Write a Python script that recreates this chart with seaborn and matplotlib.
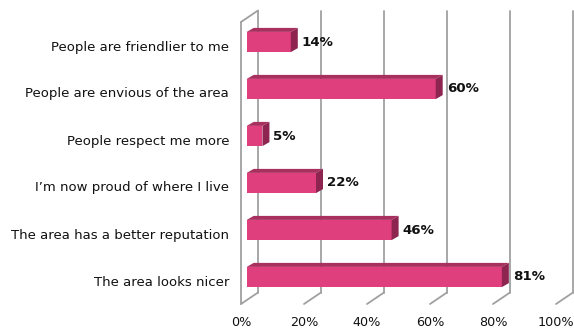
import matplotlib
matplotlib.use("Agg")
import matplotlib.pyplot as plt
import seaborn as sns
import pandas as pd
from matplotlib.patches import Polygon

categories = [
    "People are friendlier to me",
    "People are envious of the area",
    "People respect me more",
    "I\u2019m now proud of where I live",
    "The area has a better reputation",
    "The area looks nicer",
]
values = [14, 60, 5, 22, 46, 81]
xticks = [0, 20, 40, 60, 80, 100]
xtick_labels = ["0%", "20%", "40%", "60%", "80%", "100%"]

FRONT = "#DF3F7C"
TOP = "#A8305F"
SIDE = "#8E2550"
GRID = "#A0A0A0"

W, H = 574, 329
sns.set_theme(style="white")
plt.rcParams['font.family'] = ['DejaVu Sans']

fig = plt.figure(figsize=(W / 100, H / 100), dpi=100)
x0px, x1px = 241, 556
ytop, ybot = 22, 304
ax = fig.add_axes([x0px / W, 1 - ybot / H, (x1px - x0px) / W, (ybot - ytop) / H])

df = pd.DataFrame({"cat": categories, "val": values})
sns.barplot(data=df, y="cat", x="val", orient="h", width=0.43, color=FRONT,
            saturation=1, ax=ax, edgecolor="none", zorder=3)

n = len(categories)
ax.set_xlim(0, 100)
ax.set_ylim(n - 0.5, -0.5)
px_x = 100 / (x1px - x0px)
px_y = n / (ybot - ytop)

# bar 3D faces
dx, dy = 5.7 * px_x, -3.5 * px_y
ddx, ddy = 7 * px_x, -4 * px_y
for p, v in zip(ax.patches, values):
    p.set_x(p.get_x() + dx)
    p.set_y(p.get_y() + dy)
    xa = p.get_x()
    xb = xa + p.get_width()
    yt = p.get_y()
    yb = yt + p.get_height()
    ax.add_patch(Polygon([(xa, yt), (xa + ddx, yt + ddy), (xb + ddx, yt + ddy), (xb, yt)],
                         closed=True, facecolor=TOP, edgecolor="none", zorder=3, clip_on=False))
    ax.add_patch(Polygon([(xb, yt), (xb + ddx, yt + ddy), (xb + ddx, yb + ddy), (xb, yb)],
                         closed=True, facecolor=SIDE, edgecolor="none", zorder=3, clip_on=False))
    ax.text(xb + ddx + 4 * px_x, (yt + yb) / 2, f"{v}%", ha="left", va="center",
            fontsize=9.6, fontweight="bold", color="#111111", zorder=4)

# walls / grid
gx, gy = 17 * px_x, -11.5 * px_y
lw = 1.3
for v in xticks:
    ax.plot([v + gx, v + gx], [-0.5 + gy, n - 0.5 + gy], color=GRID, lw=lw, zorder=1, clip_on=False)
    ax.plot([v, v + gx], [n - 0.5, n - 0.5 + gy], color=GRID, lw=lw, zorder=1, clip_on=False)
ax.plot([0, gx], [-0.5, -0.5 + gy], color=GRID, lw=lw, zorder=1, clip_on=False)
ax.plot([0, 0], [-0.5, n - 0.5], color=GRID, lw=lw, zorder=2, clip_on=False)

for s in ax.spines.values():
    s.set_visible(False)

ax.set_xticks(xticks)
ax.set_xticklabels(xtick_labels)
ax.set_yticks(range(n))
ax.set_yticklabels(categories)
ax.set_yticks([i - 0.5 for i in range(n + 1)], minor=True)
ax.tick_params(axis="y", which="major", length=0, pad=8.6, labelsize=9.5, labelcolor="#111111")
ax.tick_params(axis="y", which="minor", length=3, width=lw, color=GRID, direction="out")
ax.tick_params(axis="x", which="major", length=3, width=lw, color=GRID, direction="out",
               pad=5.5, labelsize=9.2, labelcolor="#111111")
ax.set_xlabel("")
ax.set_ylabel("")
ax.grid(False)
ax.patch.set_alpha(0)

fig.savefig("out.png", dpi=100)
